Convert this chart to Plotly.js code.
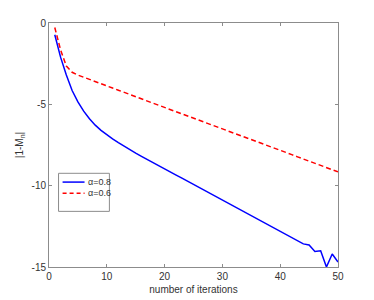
<!DOCTYPE html>
<html>
<head>
<meta charset="utf-8">
<script src="https://cdn.plot.ly/plotly-3.0.1.min.js"></script>
<style>html,body{margin:0;padding:0;background:#fff;}#chart{width:374px;height:300px;}</style>
</head>
<body>
<div id="chart"></div>
<script>
const iterations = [1,2,3,4,5,6,7,8,9,10,11,12,13,14,15,16,17,18,19,20,21,22,23,24,25,26,27,28,29,30,31,32,33,34,35,36,37,38,39,40,41,42,43,44,45,46,47,48,49,50];
const alpha08 = [-0.72,-2.1,-3.2,-4.15,-4.85,-5.42,-5.88,-6.28,-6.6,-6.87,-7.12,-7.35,-7.58,-7.8,-8.0,-8.2,-8.4,-8.6,-8.78,-8.97,-9.16,-9.35,-9.54,-9.73,-9.92,-10.11,-10.3,-10.49,-10.68,-10.87,-11.06,-11.25,-11.44,-11.63,-11.82,-12.01,-12.2,-12.39,-12.58,-12.77,-12.96,-13.15,-13.36,-13.58,-13.65,-14.05,-14.0,-15.0,-14.2,-14.7];
const alpha06 = [-0.28,-1.65,-2.65,-3.03,-3.2,-3.34,-3.47,-3.61,-3.74,-3.87,-4.0,-4.13,-4.27,-4.4,-4.53,-4.66,-4.79,-4.93,-5.06,-5.19,-5.32,-5.45,-5.59,-5.72,-5.85,-5.98,-6.11,-6.25,-6.38,-6.51,-6.64,-6.77,-6.91,-7.04,-7.17,-7.3,-7.43,-7.57,-7.7,-7.83,-7.96,-8.09,-8.23,-8.36,-8.49,-8.62,-8.75,-8.89,-9.02,-9.15];
const seriesNames = ['\u03b1=0.8', '\u03b1=0.6'];
const xTickVals = [0,10,20,30,40,50];
const xTickText = ['0','10','20','30','40','50'];
const yTickVals = [0,-5,-10,-15];
const yTickText = ['0','-5','-10','-15'];

const blue = '#0000ff', red = '#ff0000';
const traces = [
  {x: iterations, y: alpha08, type: 'scatter', mode: 'lines', name: seriesNames[0],
   line: {color: blue, width: 1.5}},
  {x: iterations, y: alpha06, type: 'scatter', mode: 'lines', name: seriesNames[1],
   line: {color: red, width: 1.5, dash: '5px,3px'}}
];

const axisCommon = {
  showgrid: false, zeroline: false, showline: true, linecolor: '#8c8c8c', linewidth: 1,
  mirror: 'allticks', ticks: 'inside', ticklen: 3, tickcolor: '#8c8c8c', tickwidth: 1,
  tickfont: {family: 'Liberation Sans, Arial, sans-serif', size: 10, color: '#333'}
};

// legend box geometry (paper coords)
const lx0 = 0.033, lx1 = 0.209, ly0 = 0.228, ly1 = 0.384;
const layout = {
  width: 374, height: 300,
  margin: {l: 48.5, r: 35.7, t: 22.7, b: 33.3, pad: 0},
  paper_bgcolor: '#fff', plot_bgcolor: '#fff',
  showlegend: false,
  font: {family: 'Liberation Sans, Arial, sans-serif', size: 10, color: '#333'},
  xaxis: Object.assign({}, axisCommon, {
    range: [0, 50], tickvals: xTickVals, ticktext: xTickText,
    title: {text: 'number of iterations', standoff: 4, font: {size: 10, color: '#333'}}
  }),
  yaxis: Object.assign({}, axisCommon, {
    range: [-15, 0], tickvals: yTickVals, ticktext: yTickText,
    title: {text: '|1-M<sub>n</sub>|', standoff: 6, font: {size: 10, color: '#333'}}
  }),
  shapes: [
    {type: 'rect', xref: 'paper', yref: 'paper', x0: lx0, x1: lx1, y0: ly0, y1: ly1,
     line: {color: '#8c8c8c', width: 1}, fillcolor: '#fff', layer: 'above'},
    {type: 'line', xref: 'paper', yref: 'paper', x0: 0.047, x1: 0.123, y0: 0.348, y1: 0.348,
     line: {color: blue, width: 1.5}, layer: 'above'},
    {type: 'line', xref: 'paper', yref: 'paper', x0: 0.047, x1: 0.123, y0: 0.302, y1: 0.302,
     line: {color: red, width: 1.5, dash: '4px,3px'}, layer: 'above'}
  ],
  annotations: [
    {xref: 'paper', yref: 'paper', x: 0.128, y: 0.348, xanchor: 'left', yanchor: 'middle',
     text: seriesNames[0], showarrow: false, font: {size: 9, color: '#333'}},
    {xref: 'paper', yref: 'paper', x: 0.128, y: 0.302, xanchor: 'left', yanchor: 'middle',
     text: seriesNames[1], showarrow: false, font: {size: 9, color: '#333'}}
  ]
};

Plotly.newPlot('chart', traces, layout, {displayModeBar: false, staticPlot: true});
</script>
</body>
</html>
